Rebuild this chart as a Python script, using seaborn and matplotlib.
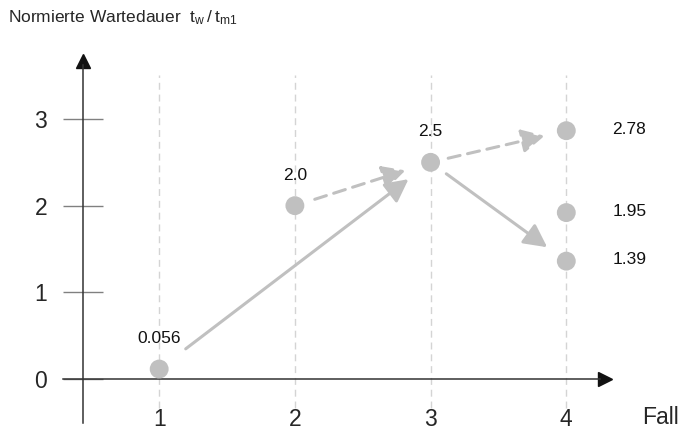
import pandas as pd
import seaborn as sns
import matplotlib.pyplot as plt

# data
cases = [1, 2, 3, 4, 4, 4]
values = [0.115, 2.0, 2.5, 2.865, 1.92, 1.36]
value_labels = ["0.056", "2.0", "2.5", "2.78", "1.95", "1.39"]
case_ticks = [1, 2, 3, 4]
y_ticks = [0, 1, 2, 3]
# arrows between points (index from, index to)
links = [(0, 2), (1, 2), (2, 3), (2, 5)]
link_dashed = [False, True, True, False]

df = pd.DataFrame({"case": cases, "value": values, "label": value_labels})

sns.set_theme(style="white")
plt.rcParams["font.family"] = ["Liberation Sans", "DejaVu Sans"]

grey = "#c0c0c0"
fig = plt.figure(figsize=(6.83, 4.32), dpi=100)
ax = fig.add_axes([0, 0, 1, 1])
ax.set_xlim(-0.173, 4.860)
ax.set_ylim(-0.6115, 4.373)

# vertical dashed guides
ax.vlines(case_ticks, -0.335, 3.51, color="#d4d4d4", lw=1.0,
          linestyle=(0, (5, 3.5)), zorder=1)

sns.scatterplot(data=df, x="case", y="value", s=185, color=grey,
                edgecolor="none", ax=ax, zorder=3, legend=False)

shrinks = [(24, 20), (15, 19), (13, 16), (14, 17)]
for (a, b), dashed, (sa, sb) in zip(links, link_dashed, shrinks):
    ax.annotate("", xy=(cases[b], values[b]), xytext=(cases[a], values[a]),
                arrowprops=dict(arrowstyle="-|>,head_length=0.7,head_width=0.36",
                                color=grey, lw=2.2, mutation_scale=20,
                                linestyle=(0, (4, 2.5)) if dashed else "-",
                                shrinkA=sa, shrinkB=sb),
                zorder=2)

for i, row in df.iterrows():
    if i < 3:
        ax.annotate(row["label"], (row["case"], row["value"]), xytext=(0, 22),
                    textcoords="offset points", ha="center", va="center",
                    fontsize=12.5, color="#111111")
    else:
        ax.annotate(row["label"], (row["case"], row["value"]), xytext=(33, 1),
                    textcoords="offset points", ha="left", va="center",
                    fontsize=12.5, color="#111111")

# axes in the middle of the figure
ax.spines[["top", "right"]].set_visible(False)
ax.spines["left"].set_position(("data", 0.4385))
ax.spines["left"].set_bounds(-0.508, 3.62)
ax.spines["bottom"].set_position(("data", 0))
ax.spines["bottom"].set_bounds(0.291, 4.25)
for s in ["left", "bottom"]:
    ax.spines[s].set_color("#333333")
    ax.spines[s].set_linewidth(1.1)
ax.plot(0.4385, 3.669, marker="^", ms=10.5, color="#111111", clip_on=False)
ax.plot(4.285, 0, marker=">", ms=10.5, color="#111111", clip_on=False)

ax.set_yticks(y_ticks)
ax.set_xticks(case_ticks)
ax.tick_params(axis="y", direction="inout", length=29.5, width=1,
               color="#808080", pad=11, labelsize=16.5, left=True)
ax.tick_params(axis="x", length=0, pad=21, labelsize=16.5)

ax.set_xlabel("Fall", fontsize=16.5, ha="center", va="center")
ax.xaxis.set_label_coords(660 / 683, 1 - 418 / 432)
ax.set_ylabel(r"Normierte Wartedauer  $\mathregular{t_w\,/\,t_{m1}}$",
              fontsize=12.5, rotation=0, ha="left", va="center")
ax.yaxis.set_label_coords(8 / 683, 1 - 18 / 432)

fig.savefig("out.png", dpi=100)
